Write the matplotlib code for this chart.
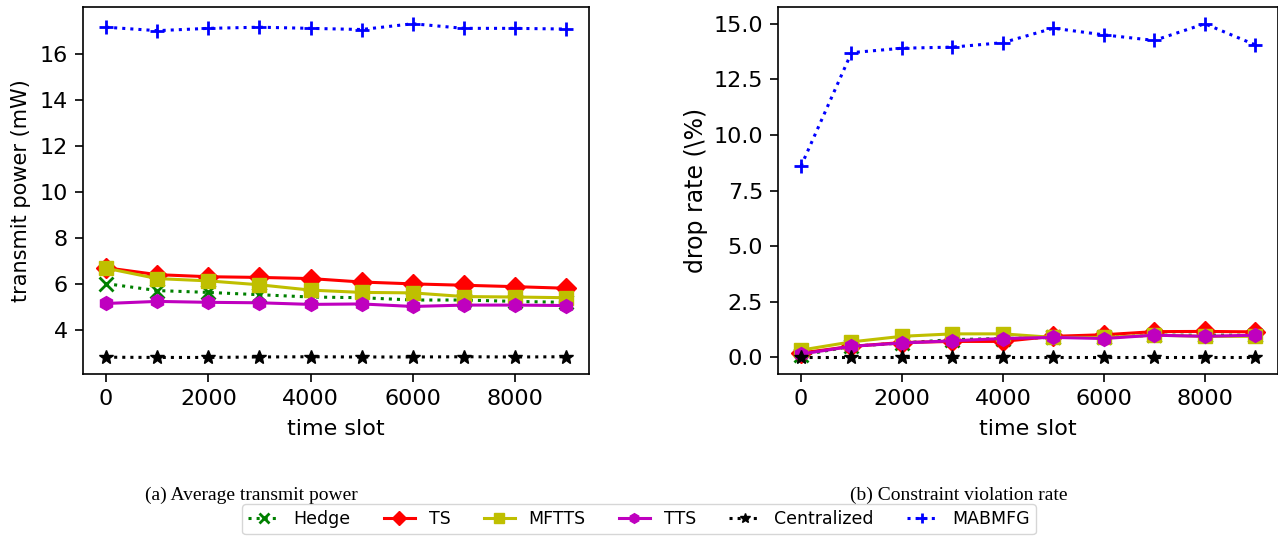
import numpy as np
import matplotlib
matplotlib.use("Agg")
import matplotlib.pyplot as plt

# datos
slots = [0, 1000, 2000, 3000, 4000, 5000, 6000, 7000, 8000, 9000]

power_hedge = [6.03, 5.73, 5.65, 5.55, 5.45, 5.42, 5.32, 5.32, 5.26, 5.22]
power_ts = [6.72, 6.42, 6.33, 6.3, 6.25, 6.1, 6.02, 5.96, 5.9, 5.83]
power_mftts = [6.7, 6.25, 6.15, 5.98, 5.75, 5.65, 5.63, 5.47, 5.45, 5.42]
power_tts = [5.17, 5.26, 5.22, 5.2, 5.13, 5.15, 5.04, 5.1, 5.1, 5.08]
power_central = [2.84, 2.83, 2.83, 2.85, 2.86, 2.85, 2.85, 2.86, 2.85, 2.86]
power_mabmfg = [17.15, 17.0, 17.1, 17.15, 17.1, 17.05, 17.3, 17.1, 17.1, 17.07]

drop_hedge = [0.1, 0.5, 0.65, 0.8, 0.85, 0.9, 0.9, 1.0, 1.0, 1.0]
drop_ts = [0.2, 0.5, 0.67, 0.72, 0.72, 0.95, 1.02, 1.16, 1.17, 1.15]
drop_mftts = [0.33, 0.7, 0.95, 1.06, 1.06, 0.9, 0.9, 1.0, 0.95, 0.95]
drop_tts = [0.15, 0.5, 0.65, 0.75, 0.85, 0.9, 0.85, 1.0, 0.95, 1.0]
drop_central = [0.0, 0.0, 0.0, 0.0, 0.0, 0.0, 0.0, 0.0, 0.0, 0.0]
drop_mabmfg = [8.6, 13.7, 13.9, 13.95, 14.15, 14.8, 14.5, 14.25, 15.0, 14.05]

nombres = ["Hedge", "TS", "MFTTS", "TTS", "Centralized", "MABMFG"]
estilos = [
    dict(color="g", linestyle=":", marker="x"),
    dict(color="r", linestyle="-", marker="D"),
    dict(color="y", linestyle="-", marker="s"),
    dict(color="m", linestyle="-", marker="h"),
    dict(color="k", linestyle=":", marker="*"),
    dict(color="b", linestyle=":", marker="+"),
]

fig = plt.figure(figsize=(12.78, 5.43), dpi=100)
ax1 = fig.add_axes([0.065, 0.311, 0.396, 0.676])
ax2 = fig.add_axes([0.609, 0.311, 0.391, 0.676])

potencia = [power_hedge, power_ts, power_mftts, power_tts, power_central, power_mabmfg]
caida = [drop_hedge, drop_ts, drop_mftts, drop_tts, drop_central, drop_mabmfg]

lineas = []
for nombre, est, yp, yd in zip(nombres, estilos, potencia, caida):
    l, = ax1.plot(slots, yp, label=nombre, linewidth=2.2, markersize=10,
                  markeredgewidth=2 if est["marker"] in "x+" else 1, **est)
    ax2.plot(slots, yd, linewidth=2.2, markersize=10,
             markeredgewidth=2 if est["marker"] in "x+" else 1, **est)
    lineas.append(l)

ax1.set_yticks([4, 6, 8, 10, 12, 14, 16])
ax1.set_ylabel("transmit power (mW)", fontsize=15, labelpad=6)
ax1.set_xlabel("time slot", fontsize=16, labelpad=7)
ax2.set_yticks([0.0, 2.5, 5.0, 7.5, 10.0, 12.5, 15.0])
ax2.set_ylabel("drop rate (\\%)", fontsize=17)
ax2.set_xlabel("time slot", fontsize=16, labelpad=7)
for ax in (ax1, ax2):
    ax.set_xticks([0, 2000, 4000, 6000, 8000])
    ax.tick_params(labelsize=16, width=1.2, length=6, pad=5)
    for s in ax.spines.values():
        s.set_linewidth(1.2)

fig.text(0.197, 0.079, "(a) Average transmit power", ha="center",
         fontsize=14, family="Liberation Serif")
fig.text(0.75, 0.079, "(b) Constraint violation rate", ha="center",
         fontsize=14, family="Liberation Serif")

fig.legend(handles=lineas, labels=nombres, loc="lower center", ncol=6,
           bbox_to_anchor=(0.5, 0.0), fontsize=12.5, handlelength=1.8,
           markerscale=0.7, columnspacing=1.9, borderpad=0.35, frameon=True)

fig.savefig("out.png", dpi=100)
